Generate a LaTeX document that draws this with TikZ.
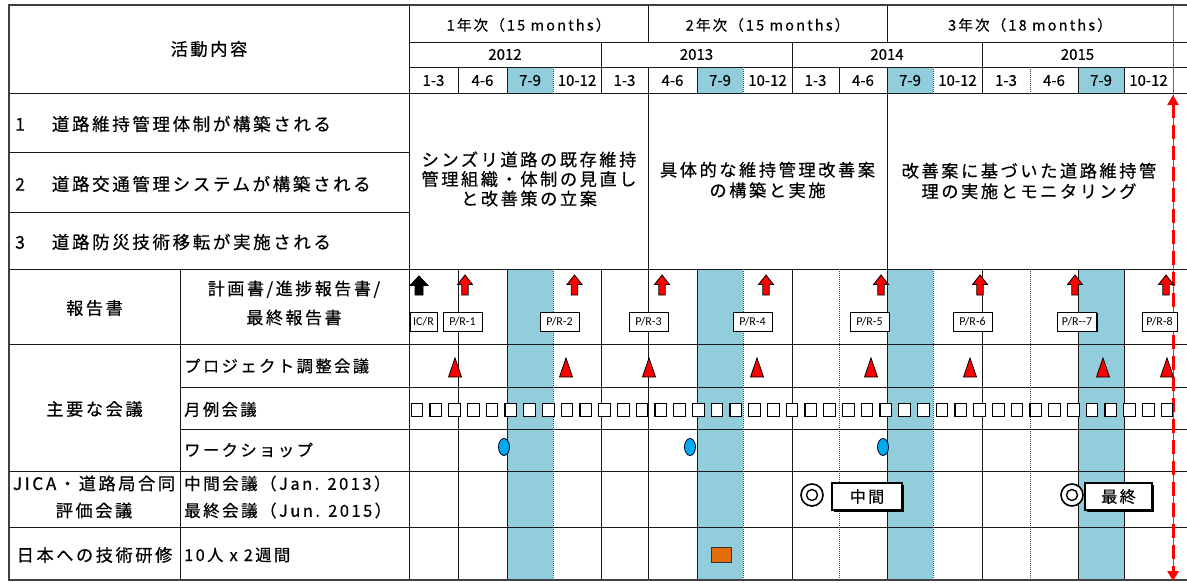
\documentclass[tikz,border=0pt]{standalone}
\usepackage{fontspec}
\usetikzlibrary{shadows,arrows.meta}
\newfontfamily\jpf{Noto Sans CJK JP}[LetterSpace=15,FakeBold=0.5]
\newfontfamily\jpn{Noto Sans CJK JP}[FakeBold=0.5]
\newfontfamily\carl{Carlito}
\definecolor{qblue}{RGB}{146,205,220}
\definecolor{wsblue}{RGB}{0,170,235}
\definecolor{orng}{RGB}{228,108,10}
\definecolor{gridc}{RGB}{25,25,25}
\begin{document}
\begin{tikzpicture}[x=1pt,y=-1pt,
  grid/.style={line width=0.8pt,draw=gridc},
  dgrid/.style={line width=0.7pt,draw=black!75,dash pattern=on 0.8pt off 1.2pt},
  frame/.style={line width=1.3pt,draw=black!75},
  jt/.style={font=\jpf\fontsize{17.2}{20}\selectfont,inner sep=0pt},
  jo/.style={font=\jpf\fontsize{17.5}{20}\selectfont,inner sep=0pt},
  js/.style={font=\jpf\fontsize{16.3}{20}\selectfont,inner sep=0pt},
  hy/.style={font=\jpf\fontsize{14.5}{16}\selectfont,inner sep=0pt},
  nt/.style={font=\jpn\fontsize{15}{17}\selectfont,inner sep=0pt},
  prbox/.style={draw=black,fill=white,line width=0.9pt,font=\carl\fontsize{12}{13}\selectfont,
    minimum width=39pt,minimum height=19pt,inner sep=1pt,
    drop shadow={shadow xshift=1.4pt,shadow yshift=-1.4pt,opacity=1,fill=black}},
  evbox/.style={draw=black,fill=white,line width=1.2pt,font=\jpf\fontsize{16}{18}\selectfont,
    minimum width=70pt,minimum height=27pt,inner sep=1pt,
    drop shadow={shadow xshift=2pt,shadow yshift=-2pt,opacity=1,fill=black}},
  uparr/.style={line width=0.8pt,draw=black,fill=red},
  tri/.style={line width=0.8pt,draw=black,fill=red},
  sq/.style={line width=1.1pt,draw=black,fill=white},
  ws/.style={line width=0.8pt,draw=black!80!blue,fill=wsblue},
  dcirc/.style={line width=1.6pt,draw=black,fill=white},
  train/.style={line width=0.9pt,draw=black!80,fill=orng},
  reddash/.style={draw=red,line width=3pt,dash pattern=on 14pt off 7pt,
    {Triangle[length=10pt,width=11pt]}-{Triangle[length=10pt,width=11pt]}}
]
\fill[white] (0,0) rectangle (1187,583);
\useasboundingbox (0,0) rectangle (1187,583);

% blue quarter columns
\foreach \a/\b in {507/553,697/743,887/933,1078/1124}{
  \fill[qblue] (\a,67) rectangle (\b,93);
  \fill[qblue] (\a,269) rectangle (\b,580);
}

% horizontal lines
\draw[grid] (409,42) -- (1187,42);
\draw[grid] (409,67) -- (1187,67);
\draw[grid] (9,93) -- (1187,93);
\draw[grid] (9,152) -- (409,152);
\draw[grid] (9,212) -- (409,212);
\draw[grid] (9,269) -- (1187,269);
\draw[grid] (9,344) -- (1187,344);
\draw[grid] (180,387) -- (1187,387);
\draw[grid] (180,429) -- (1187,429);
\draw[grid] (9,471) -- (1187,471);
\draw[grid] (9,527) -- (1187,527);

% vertical lines
\draw[grid] (180,269) -- (180,580);
\draw[grid] (409,5) -- (409,580);
\foreach \x in {648,887}{\draw[grid] (\x,5) -- (\x,42); \draw[grid] (\x,93) -- (\x,269);}
\foreach \x in {601,792,982}{\draw[grid] (\x,42) -- (\x,67);}
\foreach \x in {458,507,601,648,697,792,839,887,982,1078,1124}{\draw[grid] (\x,67) -- (\x,93);}
\foreach \x in {553,743,933,1030}{\draw[dgrid] (\x,67) -- (\x,93);}
\foreach \x in {458,507,601,648,697,792,887,982,1078,1124}{\draw[grid] (\x,269) -- (\x,580);}
\foreach \x in {553,743,839,933,1030}{\draw[dgrid] (\x,269) -- (\x,580);}
\draw[line width=0.9pt,draw=black!60] (1173,5) -- (1173,580);

% outer frame
\draw[frame] (1187,5) -- (9,5) -- (9,580) -- (1187,580);

% header texts
\node[jt] (act) at (209,49) {活動内容};
\node[hy] (y1) at (528.5,25) {1年次（15 months）};
\node[hy] (y2) at (767.5,25) {2年次（15 months）};
\node[hy] (y3) at (1030,25) {3年次（18 months）};
\node[nt] (c2012) at (505,54.5) {2012};
\node[nt] (c2013) at (696.5,54.5) {2013};
\node[nt] (c2014) at (887,54.5) {2014};
\node[nt] (c2015) at (1077.5,54.5) {2015};
\foreach \a/\b/\t [count=\i] in {409/458/1-3,458/507/4-6,507/553/7-9,553/601/10-12,
  601/648/1-3,648/697/4-6,697/743/7-9,743/792/10-12,
  792/839/1-3,839/887/4-6,887/933/7-9,933/982/10-12,
  982/1030/1-3,1030/1078/4-6,1078/1124/7-9,1124/1173/10-12}{
  \node[nt] (q\i) at ({(\a+\b)/2},80.5) {\t};
}

% objectives
\node[jo,anchor=west] (o1) at (15,124) {1\hspace{27pt}道路維持管理体制が構築される};
\node[jo,anchor=west] (o2) at (15,184) {2\hspace{27pt}道路交通管理システムが構築される};
\node[jo,anchor=west] (o3) at (15,242) {3\hspace{27pt}道路防災技術移転が実施される};
\node[jt,align=center,font=\jpf\fontsize{17.2}{19.5}\selectfont] (p1) at (529,179)
  {シンズリ道路の既存維持\\管理組織・体制の見直し\\と改善策の立案};
\node[jt,align=center,font=\jpf\fontsize{17.2}{20.5}\selectfont] (p2) at (767.5,180)
  {具体的な維持管理改善案\\の構築と実施};
\node[jt,align=center,font=\jpf\fontsize{17.2}{20.5}\selectfont] (p3) at (1029,181)
  {改善案に基づいた道路維持管\\理の実施とモニタリング};

% row labels
\node[jt] (rep) at (94.5,308) {報告書};
\node[jt,align=center,font=\jpf\fontsize{17}{29}\selectfont] (rep2) at (294,303)
  {計画書/進捗報告書/\\最終報告書};
\node[jt] (mtg) at (94.5,409) {主要な会議};
\node[js,anchor=west] (m1) at (184,366) {プロジェクト調整会議};
\node[js,anchor=west] (m2) at (184,409.5) {月例会議};
\node[js,anchor=west] (m3) at (184,450) {ワークショップ};
\node[jt,align=center,font=\jpf\fontsize{17.2}{27}\selectfont] (jica) at (94,497)
  {JICA・道路局合同\\評価会議};
\node[jt,align=left,anchor=west,font=\jpf\fontsize{16.5}{27}\selectfont] (jica2) at (184,497)
  {中間会議（Jan. 2013）\\最終会議（Jun. 2015）};
\node[jt] (trn) at (94.5,555) {日本への技術研修};
\node[js,anchor=west] (trn2) at (184,555) {10人 x 2週間};

% red dashed arrow at project end
\coordinate (rtop) at (1173,95);
\coordinate (rbot) at (1173,581);
\draw[reddash] (rtop) -- (rbot);

% report arrows
\filldraw[line width=0.8pt,draw=black,fill=black] (419,276) -- ++(9,9.5) -- ++(-5,0) -- ++(0,9.5) -- ++(-8,0) -- ++(0,-9.5) -- ++(-5,0) -- cycle;
\foreach \x in {465,574.5,662,766,881,980,1075,1166}{
  \filldraw[uparr] (\x,275) -- ++(7.5,9.5) -- ++(-4.3,0) -- ++(0,10.5) -- ++(-6.4,0) -- ++(0,-10.5) -- ++(-4.3,0) -- cycle;
}
\node[prbox,minimum width=27pt] (icr) at (423.5,321.5) {IC/R};
\node[prbox] (pr1) at (462.5,321.5) {P/R-1};
\node[prbox] (pr2) at (559.5,321.5) {P/R-2};
\node[prbox] (pr3) at (648.5,321.5) {P/R-3};
\node[prbox] (pr4) at (752.5,321.5) {P/R-4};
\node[prbox] (pr5) at (869.5,321.5) {P/R-5};
\node[prbox] (pr6) at (972.5,321.5) {P/R-6};
\node[prbox] (pr7) at (1077,321.5) {P/R-{}-7};
\node[prbox,minimum width=35pt] (pr8) at (1159.5,321.5) {P/R-8};

% project coordination meetings
\foreach \x in {455,566,649,757,871,970,1103,1167}{
  \filldraw[tri] (\x,358) -- (\x+6.5,377) -- (\x-6.5,377) -- cycle;
}
% monthly meetings
\foreach \i in {0,...,40}{
  \pgfmathsetmacro\xx{417+18.75*\i}
  \draw[sq] (\xx-5.8,403.5) rectangle (\xx+5.8,416.5);
}
% workshops
\foreach \x in {504,690,883}{
  \filldraw[ws] (\x,447) ellipse (5.5 and 8.5);
}
% evaluation meetings
\filldraw[dcirc] (812,495) circle (11);
\draw[line width=1.4pt] (812,495) circle (5.5);
\node[evbox] (mid) at (867,496.5) {中間};
\filldraw[dcirc] (1072,495) circle (11);
\draw[line width=1.4pt] (1072,495) circle (5.5);
\node[evbox,minimum width=67pt] (fin) at (1118.5,496.5) {最終};

% training
\filldraw[train] (711,547) rectangle (731,562);
\end{tikzpicture}
\end{document}
